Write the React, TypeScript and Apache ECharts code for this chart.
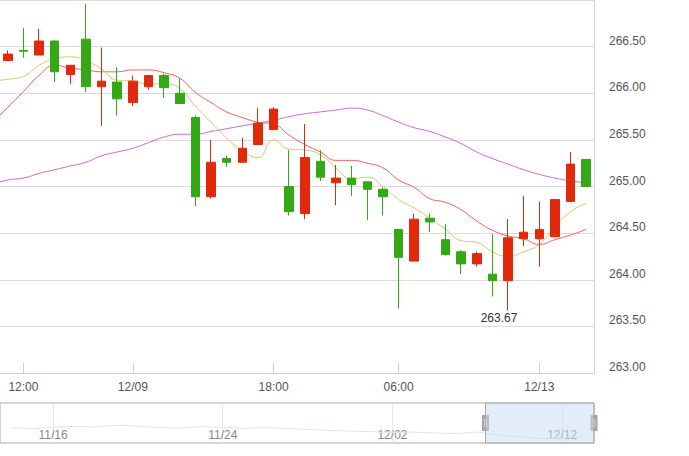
import React, { useEffect, useRef } from 'react';
import * as echarts from 'echarts';

// ---- main chart data ----
// first entry lies just left of the visible window (only the MA lines run in from it)
const times = [
  '12/08 10:00',
  '12/08 11:00', '12/08 12:00', '12/08 14:00', '12/08 15:00', '12/08 20:00', '12/08 21:00', '12/08 22:00', '12/08 23:00',
  '12/09 00:00', '12/09 01:00', '12/09 02:00', '12/09 09:00', '12/09 10:00', '12/09 11:00', '12/09 13:00', '12/09 14:00',
  '12/09 15:00', '12/09 18:00', '12/09 20:00', '12/09 21:00', '12/09 22:00', '12/09 23:00', '12/10 00:00', '12/10 01:00',
  '12/10 02:00', '12/10 06:00', '12/10 09:00', '12/10 10:00', '12/10 11:00', '12/10 13:00', '12/10 14:00', '12/10 15:00',
  '12/12 20:00', '12/12 22:00', '12/13 00:00', '12/13 01:00', '12/13 02:00', '12/13 03:00',
];
const labelIndex = [2, 9, 18, 26, 35];
const tickLabels = ['12:00', '12/09', '18:00', '06:00', '12/13'];

// visible candles (categories 1..38)
const opens = [266.35, 266.46, 266.41, 266.56, 266.20, 266.58, 266.07, 266.12, 265.90, 266.07, 266.19, 266.00, 265.74, 264.89, 265.30, 265.26, 265.45, 265.61, 265.00, 264.71, 265.27, 265.04, 265.09, 265.05, 264.97, 264.54, 264.20, 264.66, 264.43, 264.30, 264.17, 264.06, 263.99, 264.44, 264.44, 264.46, 264.84, 265.29];
const closes = [266.42, 266.45, 266.56, 266.23, 266.30, 266.07, 266.13, 265.94, 266.13, 266.19, 266.06, 265.89, 264.89, 265.26, 265.26, 265.41, 265.68, 265.83, 264.73, 265.31, 265.10, 265.09, 265.02, 264.97, 264.89, 264.24, 264.65, 264.62, 264.27, 264.17, 264.28, 263.99, 264.45, 264.51, 264.54, 264.86, 265.24, 265.00];
const lows = [266.35, 266.38, 266.41, 266.12, 266.10, 266.01, 265.65, 265.76, 265.86, 266.04, 265.95, 265.89, 264.79, 264.87, 265.21, 265.26, 265.45, 265.61, 264.69, 264.65, 265.06, 264.80, 264.90, 264.64, 264.69, 263.69, 264.20, 264.51, 264.26, 264.06, 264.14, 263.82, 263.67, 264.36, 264.14, 264.46, 264.84, 265.00];
const highs = [266.46, 266.70, 266.69, 266.57, 266.30, 266.96, 266.49, 266.28, 266.19, 266.20, 266.21, 266.16, 265.76, 265.50, 265.33, 265.52, 265.84, 265.85, 265.39, 265.67, 265.39, 265.23, 265.22, 265.05, 264.99, 264.54, 264.71, 264.71, 264.60, 264.32, 264.30, 264.49, 264.65, 264.90, 264.84, 264.86, 265.37, 265.29];

// moving averages (categories 0..38)
const maRed = [265.68, 265.85, 266.02, 266.19, 266.30, 266.27, 266.25, 266.23, 266.23, 266.25, 266.25, 266.22, 266.16, 266.01, 265.90, 265.80, 265.74, 265.69, 265.67, 265.55, 265.45, 265.37, 265.28, 265.28, 265.25, 265.20, 265.07, 264.99, 264.87, 264.83, 264.75, 264.63, 264.53, 264.47, 264.44, 264.38, 264.43, 264.48, 264.54];
const maYellow = [266.13, 266.15, 266.18, 266.30, 266.37, 266.39, 266.35, 266.26, 266.14, 266.13, 266.10, 266.10, 266.05, 265.86, 265.69, 265.52, 265.38, 265.31, 265.50, 265.40, 265.39, 265.34, 265.20, 265.08, 265.10, 265.00, 264.86, 264.77, 264.66, 264.54, 264.42, 264.40, 264.30, 264.25, 264.30, 264.38, 264.57, 264.73, 264.82];
const maPurple = [265.02, 265.07, 265.09, 265.14, 265.18, 265.22, 265.26, 265.33, 265.37, 265.41, 265.47, 265.53, 265.56, 265.56, 265.59, 265.62, 265.65, 265.68, 265.71, 265.75, 265.78, 265.80, 265.82, 265.84, 265.82, 265.76, 265.69, 265.63, 265.59, 265.53, 265.46, 265.37, 265.30, 265.24, 265.18, 265.13, 265.09, 265.06, 265.04];

const yMin = 263;
const yMax = 267;
const yStep = 0.5;

// ---- overview (slider) data ----
const overviewDates = [
  '11/14', '11/15', '11/16', '11/17', '11/18', '11/19', '11/20', '11/21', '11/22', '11/23',
  '11/24', '11/25', '11/26', '11/27', '11/28', '11/29', '11/30', '12/01', '12/02', '12/03',
  '12/04', '12/07', '12/08', '12/09', '12/10', '12/11', '12/12', '12/13',
];
const overviewClose = [
  267.6, 267.3, 267.7, 268.0, 267.8, 268.3, 268.1, 267.6, 267.5, 267.9,
  267.7, 267.4, 267.6, 267.3, 267.1, 266.8, 266.6, 266.4, 266.1, 266.3,
  266.0, 265.8, 266.3, 265.3, 264.9, 264.3, 264.5, 265.0,
];
const overviewLabelIndex = [2, 10, 18, 26];

const RED = '#e02a0b';
const GREEN = '#35a915';
const AXIS = '#c9d3df';
const FONT = '"Liberation Sans", Arial, sans-serif';

export default function App() {
  const ref = useRef<HTMLDivElement>(null);
  useEffect(() => {
    if (!ref.current) return;
    const chart = echarts.init(ref.current, undefined, { renderer: 'svg' });
    const kData: any[] = ['-', ...opens.map((o, i) => [o, closes[i], lows[i], highs[i]])];
    const showMain = (idx: number) => labelIndex.includes(idx);
    const showOv = (idx: number) => overviewLabelIndex.includes(idx);
    const gridW = 594;
    const winLeft = 485.5;
    chart.setOption({
      animation: false,
      backgroundColor: '#fff',
      textStyle: { fontFamily: FONT },
      grid: [
        { left: 0, top: 0, width: gridW, height: 373 },
        { left: 0, top: 403, width: gridW, height: 40, show: true, borderColor: '#aaa', borderWidth: 1, backgroundColor: 'transparent' },
      ],
      xAxis: [
        {
          type: 'category',
          gridIndex: 0,
          data: times,
          min: 1,
          boundaryGap: true,
          axisLine: { show: true, lineStyle: { color: AXIS } },
          axisTick: { show: true, inside: true, length: 10, alignWithLabel: true, interval: (i: number) => showMain(i), lineStyle: { color: AXIS } },
          axisLabel: {
            show: true,
            interval: (i: number) => showMain(i),
            formatter: (v: string) => {
              const p = labelIndex.indexOf(times.indexOf(v));
              return p >= 0 ? tickLabels[p] : '';
            },
            color: '#555',
            fontSize: 12,
            margin: 8,
          },
          splitLine: { show: false },
        },
        {
          type: 'category',
          gridIndex: 1,
          data: overviewDates,
          boundaryGap: true,
          axisLine: { show: false },
          axisTick: { show: true, inside: true, length: 40, alignWithLabel: true, interval: (i: number) => showOv(i), lineStyle: { color: '#e8e8e8' } },
          axisLabel: { show: true, inside: true, margin: 2, interval: (i: number) => showOv(i), color: '#888', fontSize: 12 },
          splitLine: { show: false },
        },
      ],
      yAxis: [
        {
          type: 'value',
          gridIndex: 0,
          position: 'right',
          min: yMin,
          max: yMax,
          interval: yStep,
          axisLine: { show: true, lineStyle: { color: AXIS } },
          axisTick: { show: false },
          axisLabel: {
            formatter: (v: number) => v.toFixed(2),
            verticalAlign: 'bottom',
            margin: 15,
            color: '#555',
            fontSize: 12,
            showMaxLabel: false,
          },
          splitLine: { show: true, lineStyle: { color: '#dcdcdc' } },
        },
        { type: 'value', gridIndex: 1, min: 263, max: 275, show: false, splitLine: { show: false } },
      ],
      series: [
        { type: 'line', name: 'MA1', data: maRed, smooth: true, symbol: 'none', clip: true, lineStyle: { color: '#ff5a5a', width: 1 }, z: 2 },
        { type: 'line', name: 'MA2', data: maYellow, smooth: true, symbol: 'none', clip: true, lineStyle: { color: '#d2ca68', width: 1 }, z: 2 },
        { type: 'line', name: 'MA3', data: maPurple, smooth: true, symbol: 'none', clip: true, lineStyle: { color: '#c96ac9', width: 1 }, z: 2 },
        {
          type: 'candlestick',
          name: 'K',
          data: kData,
          barWidth: 9,
          z: 3,
          itemStyle: { color: RED, color0: GREEN, borderColor: RED, borderColor0: GREEN, borderWidth: 1 },
          markPoint: {
            symbol: 'circle',
            symbolSize: 1,
            itemStyle: { color: 'rgba(0,0,0,0)' },
            label: {
              show: true,
              position: 'bottom',
              distance: 1,
              offset: [-9, 0],
              color: '#333',
              fontSize: 12,
              formatter: (p: any) => Number(p.value).toFixed(2),
            },
            data: [{ type: 'min', valueDim: 'lowest', name: 'min' }],
          },
        },
        {
          type: 'line',
          name: 'overview',
          xAxisIndex: 1,
          yAxisIndex: 1,
          data: overviewClose,
          symbol: 'none',
          silent: true,
          lineStyle: { color: '#dbe5f2', width: 1 },
        },
      ],
      graphic: [
        {
          type: 'rect',
          shape: { x: winLeft, y: 403, width: gridW - winLeft, height: 40 },
          style: { fill: 'rgba(200,220,243,0.5)', stroke: '#aaa', lineWidth: 1 },
          z: 10,
        },
        {
          type: 'group',
          z: 11,
          children: [
            { type: 'rect', shape: { x: winLeft - 3.5, y: 415, width: 7, height: 16 }, style: { fill: '#a5a5a5' } },
            { type: 'line', shape: { x1: winLeft - 1, y1: 419, x2: winLeft - 1, y2: 427 }, style: { stroke: '#ddd', lineWidth: 1 } },
            { type: 'line', shape: { x1: winLeft + 1, y1: 419, x2: winLeft + 1, y2: 427 }, style: { stroke: '#ddd', lineWidth: 1 } },
            { type: 'rect', shape: { x: gridW - 3.5, y: 415, width: 7, height: 16 }, style: { fill: '#a5a5a5' } },
            { type: 'line', shape: { x1: gridW - 1, y1: 419, x2: gridW - 1, y2: 427 }, style: { stroke: '#ddd', lineWidth: 1 } },
            { type: 'line', shape: { x1: gridW + 1, y1: 419, x2: gridW + 1, y2: 427 }, style: { stroke: '#ddd', lineWidth: 1 } },
          ],
        },
      ],
    });
    return () => chart.dispose();
  }, []);
  return <div ref={ref} style={{ position: 'fixed', left: 0, top: 0, width: 689, height: 456 }} />;
}
